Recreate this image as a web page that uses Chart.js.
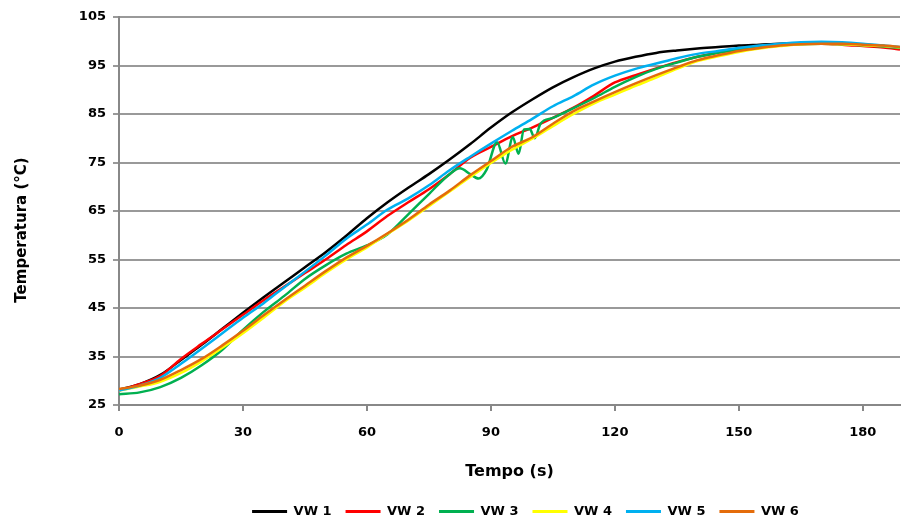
<!DOCTYPE html>
<html>
<head>
<meta charset="utf-8">
<script src="https://cdn.jsdelivr.net/npm/chart.js@4.4.1/dist/chart.umd.min.js"></script>
<style>
  html, body { margin: 0; padding: 0; background: #fff; }
  #c { display: block; }
</style>
</head>
<body>
<canvas id="c" width="901" height="525"></canvas>
<script>
// time (s) shared by most series
const times = [0, 5, 10, 15, 20, 25, 30, 35, 40, 45, 50, 55, 60, 65, 70, 75, 80, 85, 90, 95,
    100, 105, 110, 115, 120, 125, 130, 135, 140, 145, 150, 155, 160, 165, 170, 175, 180, 185, 189];

const vw1 = [28.2, 29.3, 31.2, 34.3, 37.4, 40.7, 44.0, 47.2, 50.3, 53.4, 56.5, 59.9, 63.5, 66.8, 69.8, 72.6, 75.6, 78.8, 82.2, 85.3,
    88.0, 90.5, 92.6, 94.4, 95.8, 96.8, 97.6, 98.1, 98.5, 98.8, 99.1, 99.3, 99.5, 99.6, 99.7, 99.6, 99.3, 99.0, 98.6];
const vw2 = [28.0, 29.3, 31.0, 34.5, 37.6, 40.6, 43.6, 46.6, 49.4, 52.2, 55.0, 58.0, 60.8, 64.0, 66.8, 69.5, 72.6, 76.0, 78.2, 80.4,
    82.2, 84.2, 86.3, 88.8, 91.5, 93.0, 94.4, 95.7, 96.8, 97.7, 98.4, 98.9, 99.3, 99.5, 99.5, 99.3, 99.0, 98.7, 98.3];
const vw4 = [28.0, 28.8, 29.8, 31.6, 34.0, 36.8, 39.8, 43.0, 46.3, 49.2, 52.2, 55.0, 57.5, 60.3, 63.0, 66.0, 69.0, 72.0, 74.9, 77.6,
    79.9, 82.5, 85.0, 87.2, 89.0, 90.8, 92.5, 94.3, 95.9, 96.9, 97.8, 98.5, 99.0, 99.4, 99.5, 99.4, 99.2, 99.0, 98.7];
const vw5 = [28.0, 29.0, 30.6, 33.5, 36.6, 39.8, 43.0, 46.0, 49.3, 52.5, 55.8, 59.3, 62.2, 65.3, 67.6, 70.3, 73.4, 76.2, 78.9, 81.5,
    84.0, 86.6, 88.7, 91.1, 92.9, 94.3, 95.4, 96.5, 97.4, 98.0, 98.6, 99.1, 99.5, 99.8, 99.9, 99.8, 99.5, 99.1, 98.8];
const vw6 = [28.3, 29.0, 30.2, 32.2, 34.5, 37.3, 40.3, 43.5, 46.6, 49.6, 52.6, 55.4, 57.8, 60.4, 63.2, 66.3, 69.2, 72.4, 75.3, 78.2,
    80.2, 83.0, 85.6, 87.6, 89.5, 91.3, 93.0, 94.6, 96.1, 97.1, 98.0, 98.6, 99.1, 99.4, 99.5, 99.5, 99.3, 99.1, 98.8];

// VW3 has its own time base (oscillation around 85-102 s)
const times3 = [0, 5, 10, 15, 20, 25, 30, 35, 40, 45, 50, 55, 60, 65, 70, 75, 80, 82.5, 85, 87, 89, 91.5, 93.5, 95.3, 96.7, 98,
    99.4, 100.6, 102, 105, 110, 115, 120, 125, 130, 135, 140, 145, 150, 155, 160, 165, 170, 175, 180, 185, 189];
const vw3 = [27.2, 27.6, 28.7, 30.6, 33.2, 36.4, 40.5, 44.2, 47.5, 51.0, 53.8, 56.2, 57.9, 60.2, 64.3, 68.5, 72.6, 73.8, 72.6, 71.7, 73.6, 79.2, 74.8, 80.2, 76.8, 81.8,
    81.9, 80.0, 83.0, 84.2, 86.2, 88.3, 90.6, 92.6, 94.3, 95.6, 96.8, 97.6, 98.3, 98.8, 99.2, 99.4, 99.5, 99.4, 99.2, 98.9, 98.6];

const seriesNames = ['VW 1', 'VW 2', 'VW 3', 'VW 4', 'VW 5', 'VW 6'];
const seriesColors = ['#000000', '#ff0000', '#00b050', '#ffff00', '#00b0f0', '#e46c0a'];

const xTitle = 'Tempo (s)';
const yTitle = 'Temperatura (°C)';

function toPoints(xs, ys) {
    return ys.map((y, i) => ({ x: xs[i], y: y }));
}

const allData = [
    toPoints(times, vw1),
    toPoints(times, vw2),
    toPoints(times3, vw3),
    toPoints(times, vw4),
    toPoints(times, vw5),
    toPoints(times, vw6)
];

const tickFont = { family: 'DejaVu Sans', size: 13, weight: 'bold' };

// y axis title sits a bit below the middle of the axis in the original
const yTitlePlugin = {
    id: 'yTitle',
    afterDraw(chart) {
        const ctx = chart.ctx;
        ctx.save();
        ctx.translate(22, 230);
        ctx.rotate(-Math.PI / 2);
        ctx.font = 'bold 15px "DejaVu Sans"';
        ctx.fillStyle = '#000';
        ctx.textAlign = 'center';
        ctx.textBaseline = 'middle';
        ctx.fillText(yTitle, 0, 0);
        ctx.restore();
    }
};

// nudge the legend a little to the right, like the original
const legendShift = {
    id: 'legendShift',
    afterLayout(chart) {
        if (chart.legend) {
            chart.legend.left += 16;
            chart.legend.right += 16;
        }
    }
};

new Chart(document.getElementById('c').getContext('2d'), {
    type: 'line',
    data: {
        datasets: allData.map((d, i) => ({
            label: seriesNames[i],
            data: d,
            borderColor: seriesColors[i],
            backgroundColor: seriesColors[i],
            borderWidth: 2.5,
            pointRadius: 0,
            cubicInterpolationMode: 'monotone',
            fill: false,
            order: allData.length - i   // later series drawn on top
        }))
    },
    options: {
        responsive: false,
        animation: false,
        devicePixelRatio: 1,
        layout: { padding: { left: 0, top: 17, right: 1, bottom: -3 } },
        plugins: {
            legend: {
                position: 'bottom',
                fullSize: false,
                labels: {
                    color: '#000',
                    font: tickFont,
                    boxWidth: 35,
                    boxHeight: 3,
                    padding: 14,
                    sort: (a, b) => a.datasetIndex - b.datasetIndex,
                    generateLabels(chart) {
                        const items = Chart.defaults.plugins.legend.labels.generateLabels(chart);
                        items.forEach(it => { it.lineWidth = 0; });
                        return items;
                    }
                }
            },
            tooltip: { enabled: false }
        },
        scales: {
            x: {
                type: 'linear',
                min: 0,
                max: 189,
                border: { color: '#888', width: 2 },
                grid: { drawOnChartArea: false, color: '#888', lineWidth: 2, tickLength: 6 },
                ticks: { stepSize: 30, includeBounds: false, color: '#000', font: tickFont, padding: 14, maxRotation: 0 },
                title: { display: true, text: xTitle, color: '#000', font: { family: 'DejaVu Sans', size: 16, weight: 'bold' }, padding: { top: 0, bottom: 10 } },
                afterFit: function(scale) { scale.height = 86; }
            },
            y: {
                min: 25,
                max: 105,
                border: { color: '#888', width: 2 },
                grid: { color: '#999', lineWidth: 2, tickLength: 6 },
                ticks: { stepSize: 10, color: '#000', font: tickFont, padding: 7 },
                afterFit: function(scale) { scale.width = 119; }
            }
        }
    },
    plugins: [yTitlePlugin, legendShift]
});
</script>
</body>
</html>
